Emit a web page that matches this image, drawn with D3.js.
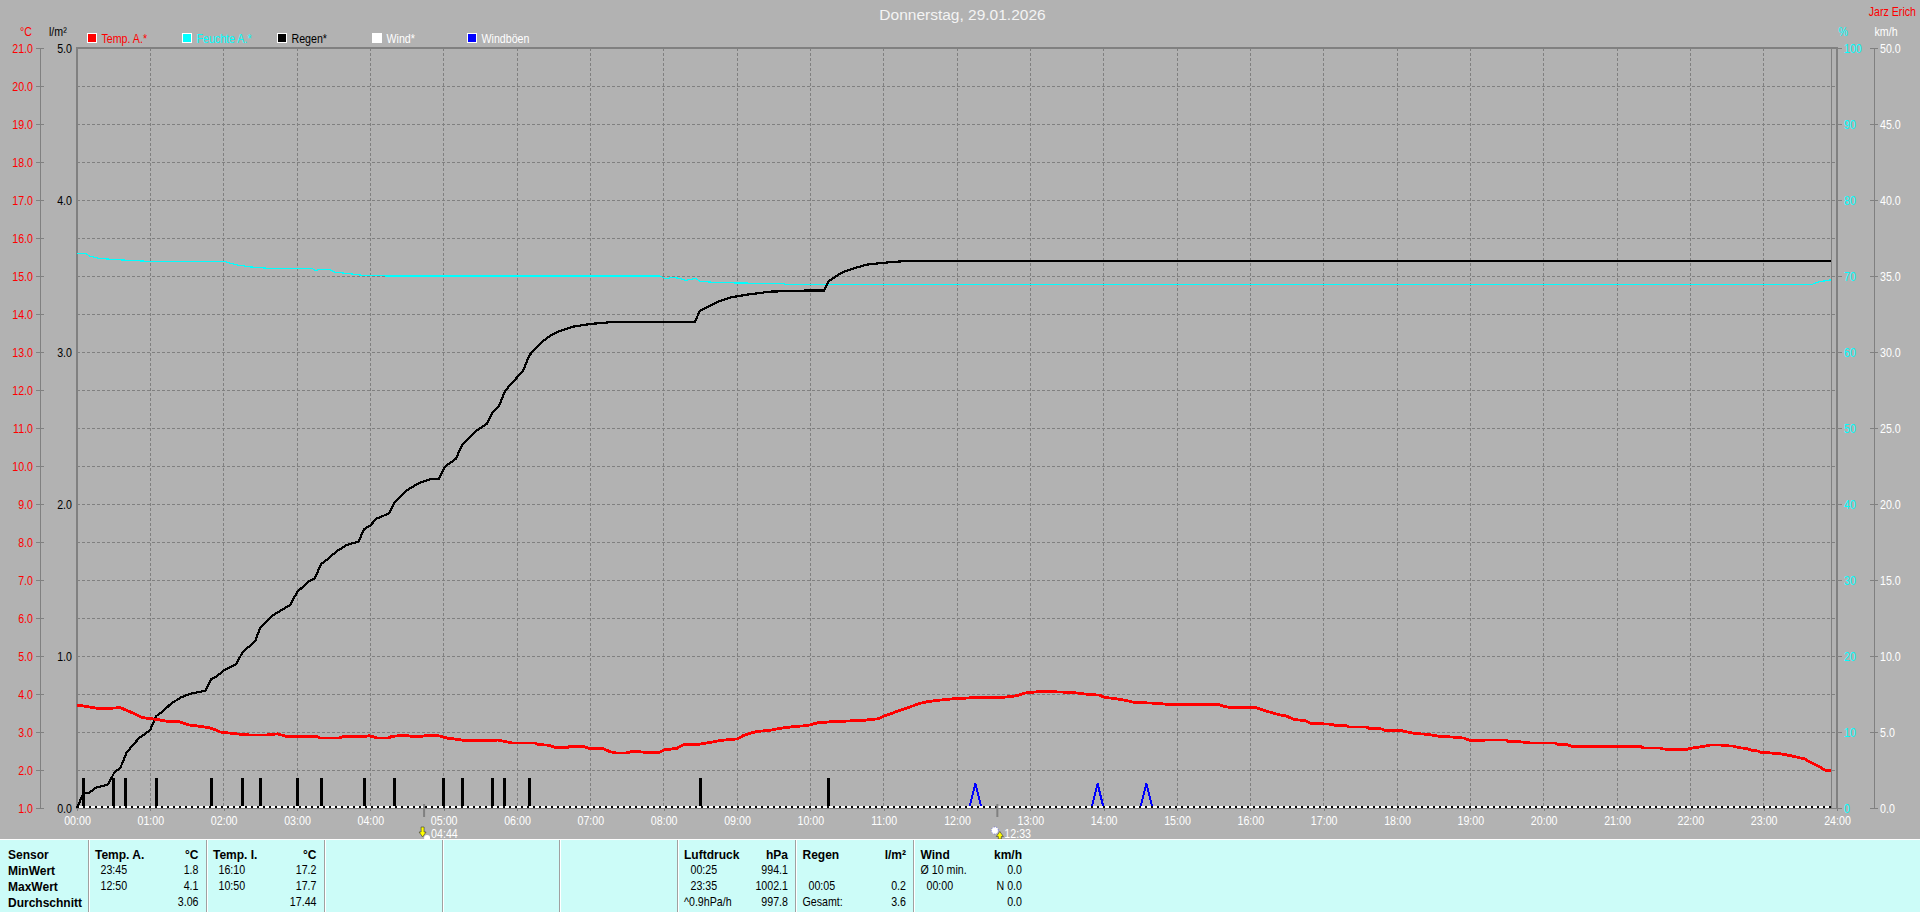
<!DOCTYPE html>
<html><head><meta charset="utf-8"><title>Donnerstag, 29.01.2026</title>
<script src="https://cdn.jsdelivr.net/npm/d3@7/dist/d3.min.js"></script>
<style>
html,body{margin:0;padding:0;background:#b2b2b2;overflow:hidden}
svg{display:block}
text{font-family:"Liberation Sans",Arial,sans-serif;font-size:13px}
.b{font-family:"Liberation Sans",Arial,sans-serif;font-weight:bold;font-size:12px}
.domain{display:none}
</style></head><body>
<svg id="c" width="1920" height="912"></svg>
<script>
const titleText="Donnerstag, 29.01.2026";
const ownerText="Jarz Erich";
const hourLabels=["00:00","01:00","02:00","03:00","04:00","05:00","06:00","07:00","08:00","09:00","10:00","11:00","12:00","13:00","14:00","15:00","16:00","17:00","18:00","19:00","20:00","21:00","22:00","23:00","24:00"];
const tempTicks=[21,20,19,18,17,16,15,14,13,12,11,10,9,8,7,6,5,4,3,2,1];
const rainTicks=[5,4,3,2,1,0];
const humTicks=[100,90,80,70,60,50,40,30,20,10,0];
const windTicks=[50,45,40,35,30,25,20,15,10,5,0];
const legendLabels=["Temp. A.*","Feuchte A.*","Regen*","Wind*","Windböen"];
const legendColors=["#ff0000","#00ffff","#000000","#ffffff","#0000ff"];
const legendText=["#ff0000","#00ffff","#000000","#ffffff","#ffffff"];

// [hour, °C]
const tempSeries=[[0,3.71],[.147,3.666],[.314,3.61],[.592,3.64],[.731,3.526],[.898,3.376],[1.09,3.33],[1.26,3.27],[1.4,3.27],[1.51,3.19],[1.68,3.15],[1.83,3.1],[1.956,3],[2.18,2.95],[2.373,2.92],[2.568,2.92],[2.735,2.95],[2.86,2.88],[3.264,2.88],[3.32,2.84],[3.57,2.84],[3.626,2.88],[3.904,2.88],[3.987,2.9],[4.1,2.84],[4.24,2.84],[4.29,2.88],[4.46,2.92],[4.57,2.88],[4.68,2.88],[4.74,2.9],[4.93,2.9],[5.05,2.84],[5.21,2.8],[5.3,2.77],[5.66,2.77],[5.74,2.79],[5.93,2.71],[6.24,2.71],[6.3,2.67],[6.44,2.65],[6.52,2.59],[6.69,2.59],[6.71,2.62],[6.91,2.62],[6.99,2.56],[7.18,2.56],[7.27,2.48],[7.35,2.45],[7.49,2.45],[7.58,2.49],[7.68,2.48],[7.79,2.45],[7.93,2.46],[8.01,2.53],[8.18,2.57],[8.26,2.66],[8.49,2.68],[8.79,2.78],[9.01,2.82],[9.1,2.92],[9.26,3.01],[9.46,3.05],[9.6,3.1],[9.76,3.14],[9.96,3.17],[10.1,3.24],[10.29,3.27],[10.52,3.29],[10.74,3.31],[10.93,3.35],[11.02,3.43],[11.18,3.54],[11.3,3.62],[11.49,3.75],[11.6,3.8],[11.77,3.84],[11.93,3.87],[12.19,3.9],[12.58,3.9],[12.8,3.95],[12.94,4.03],[13.16,4.07],[13.58,4.04],[13.74,4],[13.94,3.97],[14.02,3.91],[14.19,3.87],[14.33,3.82],[14.41,3.78],[14.66,3.76],[14.94,3.72],[15.58,3.72],[15.64,3.67],[15.75,3.64],[16.08,3.64],[16.22,3.55],[16.4,3.45],[16.49,3.42],[16.6,3.33],[16.74,3.3],[16.84,3.22],[17.07,3.21],[17.18,3.17],[17.32,3.16],[17.35,3.13],[17.58,3.13],[17.63,3.09],[17.8,3.08],[17.82,3.05],[18.07,3.03],[18.24,2.96],[18.41,2.94],[18.6,2.88],[18.74,2.87],[18.91,2.84],[19.01,2.77],[19.18,2.77],[19.2,2.79],[19.49,2.79],[19.51,2.76],[19.69,2.74],[19.83,2.71],[20.16,2.71],[20.19,2.68],[20.33,2.66],[20.4,2.61],[21.33,2.61],[21.36,2.58],[21.58,2.58],[21.61,2.56],[21.75,2.53],[21.92,2.53],[22,2.57],[22.17,2.62],[22.28,2.66],[22.42,2.66],[22.45,2.64],[22.58,2.63],[22.66,2.59],[22.78,2.56],[22.83,2.52],[22.92,2.5],[22.97,2.46],[23.08,2.45],[23.25,2.42],[23.41,2.36],[23.56,2.29],[23.64,2.2],[23.75,2.1],[23.85,1.98],[23.92,1.98]];

// [hour, %]
const humSeries=[[0,73],[.11,73],[.177,72.6],[.314,72.3],[.632,72.1],[1.04,71.9],[2.02,71.9],[2.155,71.5],[2.36,71.2],[2.63,71],[3.2,71],[3.26,70.7],[3.31,70.9],[3.43,70.9],[3.52,70.5],[3.72,70.3],[3.88,70.1],[4.245,70],[7.95,70],[8.02,69.66],[8.13,69.8],[8.22,69.7],[8.3,69.4],[8.43,69.7],[8.5,69.3],[8.64,69.2],[8.9,69.1],[9.63,69],[9.66,68.9],[23.66,68.9],[23.74,69.2],[23.92,69.5]];

// [hour, l/m²] cumulative
const rainSeries=[[0,0],[.086,.096],[.163,.1],[.258,.134],[.425,.155],[.509,.234],[.592,.265],[.675,.364],[.842,.458],[.998,.513],[1.081,.605],[1.177,.638],[1.276,.684],[1.416,.728],[1.566,.754],[1.75,.772],[1.828,.846],[1.91,.868],[2.022,.912],[2.167,.945],[2.262,1.028],[2.356,1.066],[2.436,1.105],[2.495,1.182],[2.677,1.27],[2.905,1.336],[3.005,1.423],[3.177,1.496],[3.245,1.513],[3.327,1.605],[3.418,1.636],[3.532,1.686],[3.677,1.73],[3.836,1.752],[3.918,1.835],[3.995,1.857],[4.086,1.904],[4.259,1.939],[4.336,2.015],[4.505,2.092],[4.655,2.136],[4.814,2.162],[4.936,2.167],[5.018,2.246],[5.164,2.296],[5.259,2.395],[5.427,2.476],[5.586,2.526],[5.677,2.61],[5.75,2.64],[5.84,2.746],[5.995,2.83],[6.08,2.873],[6.168,2.978],[6.314,3.055],[6.45,3.107],[6.586,3.138],[6.768,3.167],[6.995,3.184],[7.359,3.2],[8.427,3.2],[8.495,3.272],[8.632,3.303],[8.768,3.336],[8.927,3.36],[9.132,3.377],[9.45,3.397],[9.927,3.404],[10.186,3.404],[10.245,3.463],[10.427,3.522],[10.609,3.553],[10.77,3.575],[11.11,3.592],[11.36,3.6],[23.92,3.6]];

// hours with a 0.2 l/m² tip
const rainTipHours=[.0833,.5,.6667,1.0833,1.8333,2.25,2.5,3,3.3333,3.9167,4.3333,5,5.25,5.6667,5.8333,6.1667,8.5,10.25];
const rainTipValue=0.2;

// wind gust peaks [start, peak, end] hours
const gustHours=[[12.1667,12.25,12.3333],[13.8333,13.9167,14],[14.5,14.5833,14.6667]];
const gustValue=1.6;
const sunriseHour=4.733, sunsetHour=12.55;
const sunriseLabel="04:44", sunsetLabel="12:33";

const rowLabels=["Sensor","MinWert","MaxWert","Durchschnitt"];
const tempOutCol=[["Temp. A.","°C"],["23:45","1.8"],["12:50","4.1"],["","3.06"]];
const tempInCol=[["Temp. I.","°C"],["16:10","17.2"],["10:50","17.7"],["","17.44"]];
const pressureCol=[["Luftdruck","hPa"],["00:25","994.1"],["23:35","1002.1"],["^0.9hPa/h","997.8"]];
const rainCol=[["Regen","l/m²"],["",""],["00:05","0.2"],["Gesamt:","3.6"]];
const windCol=[["Wind","km/h"],["Ø 10 min.","0.0"],["00:00","N 0.0"],["","0.0"]];

const L=77,R=1837,T=48,B=808;
const GREY="#808080";
const svg=d3.select("#c");
svg.append("rect").attr("width",1920).attr("height",912).attr("fill","#b2b2b2");

const x=d3.scaleLinear().domain([0,24]).range([L,R]);
const yT=d3.scaleLinear().domain([1,21]).range([B,T]);
const yR=d3.scaleLinear().domain([0,5]).range([B,T]);
const yH=d3.scaleLinear().domain([0,100]).range([B,T]);
const yW=d3.scaleLinear().domain([0,50]).range([B,T]);

// grid
const grid=svg.append("g").attr("stroke",GREY).attr("stroke-dasharray","3,2").attr("shape-rendering","crispEdges");
grid.selectAll("line.h").data(tempTicks.slice(1,-1)).join("line").attr("class","h")
  .attr("x1",L).attr("x2",R).attr("y1",d=>yT(d)).attr("y2",d=>yT(d));
grid.selectAll("line.v").data(d3.range(1,24)).join("line").attr("class","v")
  .attr("x1",d=>x(d)).attr("x2",d=>x(d)).attr("y1",T).attr("y2",B);

// inner right limit
svg.append("line").attr("x1",x(23.92)).attr("x2",x(23.92)).attr("y1",T).attr("y2",B).attr("stroke",GREY).attr("shape-rendering","crispEdges");

// frame
const frame=svg.append("g").attr("stroke",GREY).attr("shape-rendering","crispEdges");
frame.append("line").attr("x1",L).attr("x2",L).attr("y1",T-1).attr("y2",B+1).attr("stroke-width",2);
frame.append("line").attr("x1",L).attr("x2",R+1).attr("y1",T).attr("y2",T).attr("stroke-width",2);
frame.append("line").attr("x1",R).attr("x2",R).attr("y1",T-1).attr("y2",B+1).attr("stroke-width",2);
frame.append("line").attr("x1",L).attr("x2",R+1).attr("y1",B+.5).attr("y2",B+.5);

function styleAxis(g,color,line){
  g.selectAll("text").attr("fill",color);
  g.selectAll("line").attr("stroke",line||GREY).attr("shape-rendering","crispEdges");
}
// axes
const aT=svg.append("g").attr("transform","translate(40,0)")
  .call(d3.axisLeft(yT).tickValues(tempTicks).tickFormat(d3.format(".1f")).tickSize(4).tickPadding(3));
styleAxis(aT,"#ff0000"); aT.selectAll("line").attr("x1",-4).attr("x2",4);
svg.append("line").attr("x1",40.5).attr("x2",40.5).attr("y1",T).attr("y2",B).attr("stroke",GREY);

const aR=svg.append("g").attr("transform",`translate(${L},0)`)
  .call(d3.axisLeft(yR).tickValues(rainTicks).tickFormat(d3.format(".1f")).tickSize(0).tickPadding(5));
styleAxis(aR,"#000000");

const aH=svg.append("g").attr("transform",`translate(${R},0)`)
  .call(d3.axisRight(yH).tickValues(humTicks).tickFormat(d3.format("d")).tickSize(5).tickPadding(2));
styleAxis(aH,"#00ffff");

const aW=svg.append("g").attr("transform","translate(1874,0)")
  .call(d3.axisRight(yW).tickValues(windTicks).tickFormat(d3.format(".1f")).tickSize(4).tickPadding(2));
styleAxis(aW,"#ffffff"); aW.selectAll("line").attr("x1",-4).attr("x2",4);
svg.append("line").attr("x1",1874.5).attr("x2",1874.5).attr("y1",T).attr("y2",B).attr("stroke",GREY);

const aX=svg.append("g").attr("transform",`translate(0,${B})`)
  .call(d3.axisBottom(x).tickValues(d3.range(0,25)).tickFormat(d=>hourLabels[d]).tickSize(3).tickPadding(5));
styleAxis(aX,"#ffffff");

// unit labels
const unit=(t,xx,c)=>svg.append("text").attr("x",xx).attr("y",36).attr("fill",c).text(t);
unit("°C",20,"#ff0000"); unit("l/m²",49,"#000000"); unit("%",1838.5,"#00ffff"); unit("km/h",1874.5,"#ffffff");

// title
svg.append("text").attr("class","wide").attr("x",962.5).attr("y",20).attr("text-anchor","middle").attr("fill","#f4f4f4")
  .style("font-size","15.5px").text(titleText);
svg.append("text").attr("x",1916).attr("y",16).attr("text-anchor","end").attr("fill","#ff0000").text(ownerText);

// legend
const lg=svg.selectAll("g.lg").data(legendLabels).join("g").attr("class","lg").attr("transform",(d,i)=>`translate(${87+i*95},33)`);
lg.append("rect").attr("x",.5).attr("y",.5).attr("width",9).attr("height",9).attr("stroke","#fff").attr("fill",(d,i)=>legendColors[i]).attr("shape-rendering","crispEdges");
lg.append("text").attr("x",14.5).attr("y",9.5).attr("fill",(d,i)=>legendText[i]).text(d=>d);

// rain tip bars
svg.selectAll("rect.tip").data(rainTipHours).join("rect").attr("class","tip")
  .attr("x",d=>x(d)-1.5).attr("y",yR(rainTipValue)).attr("width",3).attr("height",yR(0)-yR(rainTipValue)).attr("fill","#000").attr("shape-rendering","crispEdges");

// gusts
const gustLine=d3.line().x(d=>x(d[0])).y(d=>yW(d[1]));
svg.selectAll("path.gust").data(gustHours).join("path").attr("class","gust")
  .attr("d",d=>gustLine([[d[0],0],[d[1],gustValue],[d[2],0]])).attr("fill","none").attr("stroke","#0000ff").attr("stroke-width",2).attr("shape-rendering","crispEdges");

// baseline: wind 0 (white) / rain 0 (black dots)
svg.append("line").attr("x1",L).attr("x2",x(23.92)).attr("y1",yW(0)-1).attr("y2",yW(0)-1).attr("stroke","#fff").attr("stroke-width",2).attr("shape-rendering","crispEdges");
svg.append("line").attr("x1",L).attr("x2",x(23.92)).attr("y1",yR(0)-1).attr("y2",yR(0)-1).attr("stroke","#000").attr("stroke-width",2).attr("stroke-dasharray","2,4").attr("shape-rendering","crispEdges");

// series
const lineOf=y=>d3.line().x(d=>x(d[0])).y(d=>y(d[1]));
svg.append("path").attr("d",lineOf(yH)(humSeries)).attr("fill","none").attr("stroke","#00ffff").attr("stroke-width",1.2).attr("shape-rendering","crispEdges");
svg.append("path").attr("d",lineOf(yR)(rainSeries)).attr("fill","none").attr("stroke","#000").attr("stroke-width",2.2).attr("stroke-linejoin","round").attr("shape-rendering","crispEdges");
svg.append("path").attr("d",lineOf(yT)(tempSeries)).attr("fill","none").attr("stroke","#ff0000").attr("stroke-width",2.8).attr("shape-rendering","crispEdges");

// sunrise / sunset markers
[[sunriseHour,sunriseLabel,"down"],[sunsetHour,sunsetLabel,"up"]].forEach(([h,lab,dir])=>{
  const px=x(h);
  svg.append("rect").attr("x",px-1).attr("y",804).attr("width",2).attr("height",13).attr("fill",GREY);
  svg.append("text").attr("x",px+7).attr("y",838).attr("fill","#fff").text(lab);
  if(dir==="down"){
    svg.append("circle").attr("cx",px+3).attr("cy",838).attr("r",3).attr("fill","#fff");
    svg.append("path").attr("d",`M${px-3},827h3v5h2l-3.5,5l-3.5,-5h2z`).attr("fill","#ffff00").attr("stroke","#333").attr("stroke-width",.6);
  }else{
    svg.append("circle").attr("cx",px-2.5).attr("cy",830.5).attr("r",3.5).attr("fill","#fff").attr("stroke","#5a5ae0").attr("stroke-width",.8).attr("stroke-dasharray","1,1.5");
    svg.append("path").attr("d",`M${px+2.5},831.5l3.5,5h-2v2.5h-3v-2.5h-2z`).attr("fill","#ffff00").attr("stroke","#333").attr("stroke-width",.6);
  }
});

// bottom panel
svg.append("rect").attr("x",0).attr("y",839).attr("width",1920).attr("height",73).attr("fill","#ccfcf8");
svg.append("line").attr("x1",0).attr("x2",1920).attr("y1",839.5).attr("y2",839.5).attr("stroke","#fff");
const seps=[88,206,324,442,559,677,795,913];
svg.selectAll("line.sep").data(seps).join("line").attr("class","sep").attr("x1",d=>d+.5).attr("x2",d=>d+.5).attr("y1",840).attr("y2",912).attr("stroke","#a0a0a0");
svg.selectAll("line.sep2").data(seps).join("line").attr("class","sep2").attr("x1",d=>d+1.5).attr("x2",d=>d+1.5).attr("y1",840).attr("y2",912).attr("stroke","#fff");

const rowY=i=>858.5+i*16;
rowLabels.forEach((t,i)=>svg.append("text").attr("class","b").attr("x",8).attr("y",rowY(i)).attr("fill","#000").text(t));
function col(rows,xHead,xTime,xRight,altLast){
  rows.forEach((r,i)=>{
    const tx=i===0?xHead:(altLast&&altLast.includes(r[0])?xHead:xTime);
    const a=svg.append("text").attr("x",tx).attr("y",rowY(i)).attr("fill","#000").text(r[0]);
    const b=svg.append("text").attr("x",xRight).attr("y",rowY(i)).attr("text-anchor","end").attr("fill","#000").text(r[1]);
    if(i===0){a.attr("class","b");b.attr("class","b");}
  });
}
col(tempOutCol,95,100.5,198.5);
col(tempInCol,213,218.5,316.5);
col(pressureCol,684,690.5,788,["^0.9hPa/h"]);
col(rainCol,802.5,808.5,906,["Gesamt:"]);
col(windCol,920.5,926.5,1022,["Ø 10 min."]);

// the reference face is a narrow bitmap font: condense regular labels about their anchor
svg.selectAll("text").each(function(){
  const t=d3.select(this);
  if(t.classed("b")||t.classed("wide"))return;
  const ax=+t.attr("x")||0;
  t.attr("transform",`translate(${ax},0) scale(.82,1) translate(${-ax},0)`);
});
</script></body></html>
